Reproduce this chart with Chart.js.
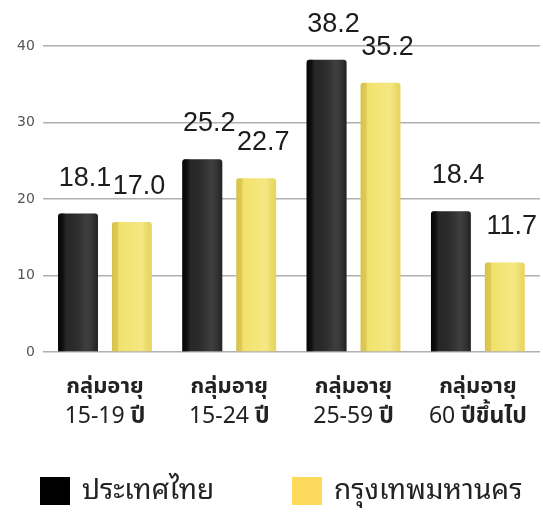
<!DOCTYPE html>
<html>
<head>
<meta charset="utf-8">
<script src="https://cdn.jsdelivr.net/npm/chart.js@4/dist/chart.umd.min.js"></script>
<style>
html,body{margin:0;padding:0;background:#fff;}
#wrap{width:543px;height:519px;position:relative;}
</style>
</head>
<body>
<div id="wrap"><canvas id="c" width="543" height="519"></canvas></div>
<script>
const catLine1 = ['กลุ่มอายุ', 'กลุ่มอายุ', 'กลุ่มอายุ', 'กลุ่มอายุ'];
const catNum = ['15-19', '15-24', '25-59', '60'];
const catUnit = ['ปี', 'ปี', 'ปี', 'ปีขึ้นไป'];
const thailand = [18.1, 25.2, 38.2, 18.4];
const bangkok = [17.0, 22.7, 35.2, 11.7];
const yTicks = [0, 10, 20, 30, 40];
const seriesNames = ['ประเทศไทย', 'กรุงเทพมหานคร'];
const legendColors = ['#000000', '#fdd95c'];

const THAI = '"Noto Sans Thai", "Noto Sans Thai UI", "Noto Sans", "DejaVu Sans", sans-serif';
const THAI_LOOPED = '"Noto Sans Thai Looped", "Noto Serif Thai", "Noto Sans Thai", "DejaVu Sans", sans-serif';

const labelPlugin = {
  id: 'labels3d',
  afterDatasetsDraw(chart) {
    const ctx = chart.ctx;
    chart.data.datasets.forEach((ds, di) => {
      const meta = chart.getDatasetMeta(di);
      meta.data.forEach((bar, i) => {
        const w = bar.width, x0 = bar.x - w / 2, top = bar.y, bot = bar.base;
        const g = ctx.createLinearGradient(x0, 0, x0 + w, 0);
        if (di === 0) {
          g.addColorStop(0, 'rgba(0,0,0,0.9)');
          g.addColorStop(0.12, 'rgba(0,0,0,0.6)');
          g.addColorStop(0.2, 'rgba(0,0,0,0)');
          g.addColorStop(0.7, 'rgba(255,255,255,0.1)');
          g.addColorStop(1, 'rgba(0,0,0,0.2)');
        } else {
          g.addColorStop(0, 'rgba(150,120,0,0.3)');
          g.addColorStop(0.14, 'rgba(150,120,0,0.22)');
          g.addColorStop(0.2, 'rgba(255,255,255,0)');
          g.addColorStop(0.75, 'rgba(255,255,220,0.2)');
          g.addColorStop(1, 'rgba(150,120,0,0.12)');
        }
        ctx.save();
        ctx.fillStyle = g;
        ctx.beginPath();
        ctx.roundRect(x0, top, w, bot - top, [3, 3, 0, 0]);
        ctx.fill();
        ctx.restore();
        ctx.save();
        ctx.fillStyle = '#1c1c1c';
        ctx.font = '27px "Liberation Sans", Arial, sans-serif';
        ctx.textAlign = 'center';
        ctx.textBaseline = 'alphabetic';
        ctx.fillText(ds.data[i].toFixed(1), bar.x + 7, top - 28);
        ctx.restore();
      });
    });
    const xs = chart.scales.x;
    const yBase = chart.chartArea.bottom;
    ctx.save();
    ctx.fillStyle = '#222';
    ctx.textBaseline = 'alphabetic';
    catLine1.forEach((t, i) => {
      const cx = xs.getPixelForValue(i);
      ctx.textAlign = 'center';
      ctx.font = 'bold 22px ' + THAI;
      ctx.fillText(t, cx, yBase + 41);
      const f1 = '23px ' + THAI, f2 = 'bold 23px ' + THAI;
      ctx.font = f1; const w1 = ctx.measureText(catNum[i] + ' ').width;
      ctx.font = f2; const w2 = ctx.measureText(catUnit[i]).width;
      const sx = cx - (w1 + w2) / 2;
      ctx.textAlign = 'left';
      ctx.font = f1; ctx.fillText(catNum[i] + ' ', sx, yBase + 71);
      ctx.font = f2; ctx.fillText(catUnit[i], sx + w1, yBase + 71);
    });
    // legend
    const legX = [40, 292];
    const boxTop = chart.height - 42;
    seriesNames.forEach((name, i) => {
      ctx.fillStyle = legendColors[i];
      ctx.fillRect(legX[i], boxTop, 30, 28);
      ctx.fillStyle = '#222';
      ctx.font = '28px ' + THAI_LOOPED;
      ctx.textAlign = 'left';
      ctx.textBaseline = 'middle';
      ctx.fillText(name, legX[i] + 42, boxTop + 14);
    });
    ctx.restore();
  }
};

new Chart(document.getElementById('c'), {
  type: 'bar',
  data: {
    labels: catNum,
    datasets: [
      { label: seriesNames[0], data: thailand, backgroundColor: '#282828', borderWidth: 0,
        borderRadius: { topLeft: 3, topRight: 3 }, borderSkipped: 'bottom' },
      { label: seriesNames[1], data: bangkok, backgroundColor: '#f2e26c', borderWidth: 0,
        borderRadius: { topLeft: 3, topRight: 3 }, borderSkipped: 'bottom' }
    ]
  },
  options: {
    responsive: false,
    animation: false,
    datasets: { bar: { categoryPercentage: 0.867, barPercentage: 0.74 } },
    layout: { padding: { top: 46, right: 3, left: 9, bottom: 47 } },
    scales: {
      x: {
        grid: { display: false },
        border: { display: false },
        ticks: { display: false },
        afterFit(s) { s.height = 120; }
      },
      y: {
        min: 0, max: 40,
        afterBuildTicks(s) { s.ticks = yTicks.map(v => ({ value: v })); },
        grid: { color: '#b0b0b0', lineWidth: 1.5, drawTicks: false },
        border: { display: false },
        ticks: { color: '#555', padding: 8, font: { size: 14, family: '"DejaVu Sans", sans-serif' } }
      }
    },
    plugins: {
      tooltip: { enabled: false },
      legend: { display: false }
    }
  },
  plugins: [labelPlugin]
});
</script>
</body>
</html>
